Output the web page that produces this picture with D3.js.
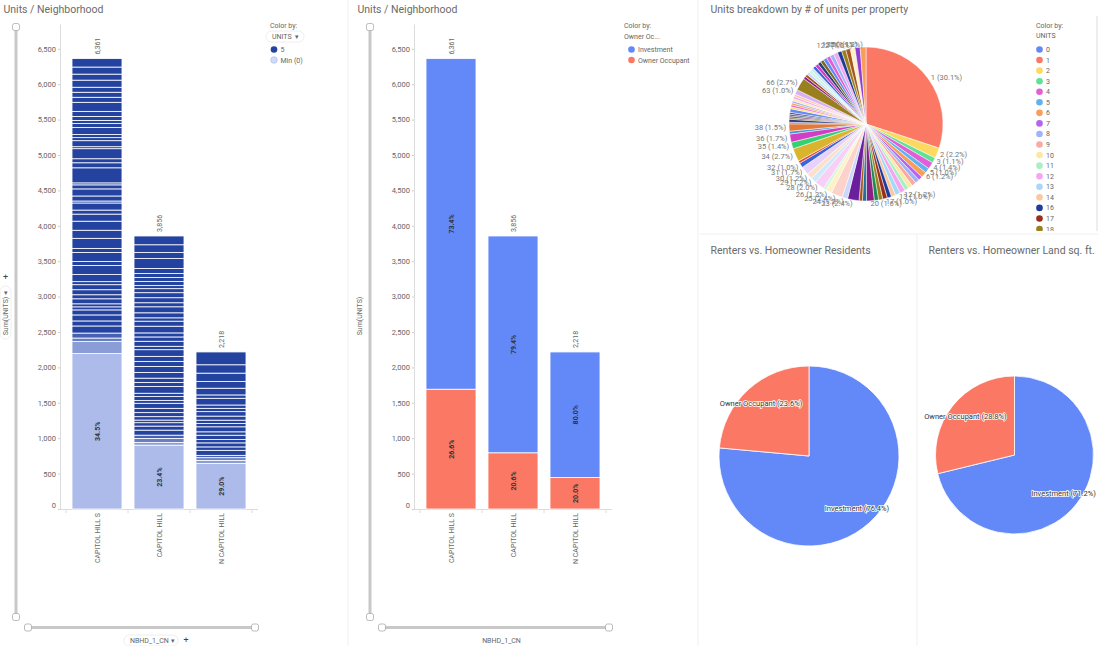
<!DOCTYPE html>
<html>
<head>
<meta charset="utf-8">
<script src="https://cdn.jsdelivr.net/npm/d3@7"></script>
<style>
  body { margin: 0; background: #fff; }
  svg { font-family: Roboto, "Open Sans", sans-serif; }
  .title { font-size: 10.5px; fill: #6a6a6a; }
  .small { font-size: 7px; fill: #666; }
  .axis text { font-size: 7.5px; fill: #666; font-family: Roboto, sans-serif; }
  .axis .domain { stroke: #dcdcdc; }
  .axis .tick line { stroke: #cfcfcf; }
</style>
</head>
<body>
<svg id="dash" width="1098" height="646"></svg>
<script>
// units dashboard: two stacked bar charts + three pies

// ---- data ----
var neighborhoods = ["CAPITOL HILL S", "CAPITOL HILL", "N CAPITOL HILL"];
var totalUnits = [6361, 3856, 2218];
var ownerUnits = [1692, 794, 444];
var investUnits = [4669, 3062, 1774];
var yTicks = [0, 500, 1000, 1500, 2000, 2500, 3000, 3500, 4000, 4500, 5000, 5500, 6000, 6500];

// stack segments, bottom to top: [UNITS per property, Sum(UNITS)]
var segCapitolHillS = [[1,2195],[2,170],[3,50],[4,70],
  [5,100],[6,71],[7,85],[8,71],[9,43],[10,43],[11,71],[12,57],[13,71],[14,71],
  [16,43],[17,100],[18,128],[19,57],[20,128],[21,57],[22,142],[23,114],[24,128],[25,100],
  [26,57],[27,100],[28,28],[29,71],[30,100],[31,57],[32,28],[33,213],[34,71],[35,57],
  [36,142],[37,28],[38,85],[39,43],[40,43],[41,100],[42,57],[43,43],[45,57],[47,71],
  [50,128],[52,71],[55,71],[58,71],[62,100],[68,85],[75,100],[96,119]];
var segCapitolHill = [[1,902],[2,37],[3,57],[4,47],
  [5,71],[6,57],[7,48],[8,37],[9,48],[10,57],[11,61],[12,71],[13,38],[14,57],
  [16,47],[17,95],[18,57],[19,61],[20,81],[21,85],[22,71],[23,71],[24,94],[25,48],
  [26,71],[27,61],[28,57],[29,95],[30,71],[31,47],[32,71],[33,85],[34,57],[35,71],
  [36,71],[37,57],[38,43],[40,57],[42,57],[45,57],[48,71],[52,140],[60,85],[66,110],[84,124]];
var segNCapitolHill = [[1,643],[2,44],[3,38],[4,33],
  [5,71],[6,48],[8,57],[9,47],[10,61],[12,48],[14,71],[16,47],[18,47],[20,57],
  [22,63],[24,47],[26,47],[28,95],[30,47],[32,95],[36,95],[40,118],[48,118],[60,181]];

// Sum(UNITS) by UNITS value (pie)
var pieUnits = [0,1,2,3,4,5,6,7,8,9,10,11,12,13,14,16,17,18,19,
  20,21,22,23,24,25,26,27,28,29,30,31,32,33,34,35,36,37,38,
  39,40,42,44,45,47,48,50,52,54,56,58,60,62,63,66,
  68,70,72,75,77,80,84,88,90,96,100,104,108,112,114,118,122,135,150];
var pieSums = [0,3740,274,138,180,130,150,105,112,117,110,110,144,130,112,112,119,108,114,
  200,105,88,299,144,300,156,81,252,145,150,217,128,66,340,175,216,74,190,
  39,80,42,44,45,47,96,50,52,54,56,58,60,62,126,330,
  68,70,72,75,77,80,84,88,90,96,100,104,108,112,114,118,122,135,150];
var legendCount = 18; // legend rows that fit in the panel (last one is cut)

var ownerLabels = ["Investment", "Owner Occupant"];
var residentUnits = [9505, 2930];
var landShare = [71.2, 28.8];

// ---- colors ----
var palette = [
  "#6389f8","#fa7864","#fcda5f","#5fe196","#e35ed6","#5fb3ee","#f99d5b","#b564ec",
  "#a0b3f9","#f8aba0","#fde8a3","#a8f0c3","#f5a6ee","#a6d8f9","#fbc7a1","#d9b0f6",
  "#1e3c98","#9b2d1c","#9a7f1e","#1f8a4c","#8a1f85","#1f6e9c","#a5571c","#6a1f9c",
  "#cbd7fb","#fcd2cb","#fef1c6","#cff7de","#f9cff6","#cfe9fb","#fde0cb","#e8d2fa",
  "#3d63d8","#de4b35","#d9b42c","#37cf72","#d23dc4","#3a98d8","#e0793a","#8f3bd6",
  "#2c3f7a","#7a3a2e","#7a6a2a","#2e6e4a","#6e2e6a","#2e5a7a","#85502a","#4e2e7a"];
var blue = "#6389f8", salmon = "#fa7864";
var unitColor = d3.scaleLinear().domain([0, 5]).range(["#cfd9fc", "#2443a0"]).clamp(true);

var svg = d3.select("#dash");

// panel separators
svg.append("g").attr("stroke", "#f0f0f0").selectAll("line")
  .data([[348,0,348,646],[698,0,698,646],[700,234,1098,234],[917,234,917,646]])
  .enter().append("line")
  .attr("x1", d => d[0]).attr("y1", d => d[1]).attr("x2", d => d[2]).attr("y2", d => d[3]);

// ---- shared scales for both bar charts ----
var y = d3.scaleLinear().domain([0, 6850]).range([509, 24]);
var x = d3.scaleBand().domain(neighborhoods).range([66, 252]).paddingInner(0.194).paddingOuter(0.097);

function handle(g, cx, cy) {
  g.append("rect").attr("x", cx - 3.5).attr("y", cy - 3.5).attr("width", 7).attr("height", 7)
    .attr("rx", 2).attr("fill", "#fff").attr("stroke", "#aaa").attr("stroke-width", 0.8);
}

function barFrame(ox, left) {
  var g = svg.append("g").attr("transform", "translate(" + ox + ",0)");
  g.append("text").attr("class", "title").attr("x", 3.5).attr("y", 12.5).text("Units / Neighborhood");

  // sliders
  g.append("line").attr("x1", 16).attr("x2", 16).attr("y1", 27).attr("y2", 617)
    .attr("stroke", "#c8c8c8").attr("stroke-width", 3);
  g.append("line").attr("x1", 28).attr("x2", 255).attr("y1", 627.5).attr("y2", 627.5)
    .attr("stroke", "#c8c8c8").attr("stroke-width", 3);
  handle(g, 16, 27); handle(g, 16, 617); handle(g, 28, 627.5); handle(g, 255, 627.5);

  // y axis
  var ya = g.append("g").attr("class", "axis").attr("transform", "translate(60,0)")
    .call(d3.axisLeft(y).tickValues(yTicks).tickFormat(d3.format(",")).tickSize(2).tickPadding(2).tickSizeOuter(0));
  ya.selectAll(".tick").filter(d => d === 0).select("text").attr("y", -4);

  // x axis
  g.append("line").attr("x1", 60).attr("x2", 258).attr("y1", 509.5).attr("y2", 509.5).attr("stroke", "#dcdcdc");
  g.selectAll(null).data(d3.range(neighborhoods.length + 1)).enter().append("line")
    .attr("x1", i => x.range()[0] + i * x.step()).attr("x2", i => x.range()[0] + i * x.step())
    .attr("y1", 509.5).attr("y2", 513).attr("stroke", "#dcdcdc");
  g.selectAll(null).data(neighborhoods).enter().append("text")
    .attr("class", "small").attr("font-size", "7.5px")
    .attr("transform", d => "translate(" + (x(d) + x.bandwidth() / 2 + 2.5) + ",513) rotate(-90)")
    .attr("text-anchor", "end").text(d => d);

  // axis titles
  g.append("text").attr("class", "small").attr("font-size", "7.5px")
    .attr("transform", "translate(7.5,316) rotate(-90)")
    .attr("text-anchor", "middle").text("Sum(UNITS)");
  if (left) {
    g.append("rect").attr("x", 0).attr("y", 286).attr("width", 11).attr("height", 53).attr("rx", 5.5)
      .attr("fill", "none").attr("stroke", "#eee");
    g.append("text").attr("class", "small").attr("x", 5.5).attr("y", 295).attr("text-anchor", "middle").attr("font-size", "6px").text("▾");
    g.append("text").attr("x", 5.5).attr("y", 280).attr("text-anchor", "middle").attr("font-size", "9px").attr("fill", "#444").text("+");
    g.append("rect").attr("x", 124).attr("y", 635).attr("width", 54).attr("height", 11).attr("rx", 5.5)
      .attr("fill", "none").attr("stroke", "#eee");
    g.append("text").attr("class", "small").attr("font-size", "6.8px").attr("x", 130).attr("y", 642.5).text("NBHD_1_CN");
    g.append("text").attr("class", "small").attr("x", 172.5).attr("y", 642.5).attr("font-size", "6px").attr("text-anchor", "middle").text("▾");
    g.append("text").attr("x", 186).attr("y", 643).attr("text-anchor", "middle").attr("font-size", "9px").attr("fill", "#444").text("+");
  } else {
    g.append("text").attr("class", "small").attr("font-size", "7px").attr("x", 147.5).attr("y", 642.5)
      .attr("text-anchor", "middle").text("NBHD_1_CN");
  }
  return g;
}

function drawStack(g, i, rows, colorOf) {
  var total = rows[rows.length - 1].y1;
  var cx = x(neighborhoods[i]) + x.bandwidth() / 2;
  g.selectAll(null).data(rows).enter().append("rect")
    .attr("x", x(neighborhoods[i])).attr("width", x.bandwidth())
    .attr("y", d => y(d.y1)).attr("height", d => y(d.y0) - y(d.y1))
    .attr("fill", colorOf).attr("stroke", "#fff").attr("stroke-width", 0.8);
  g.selectAll(null).data(rows.filter(d => y(d.y0) - y(d.y1) > 30)).enter().append("text")
    .attr("transform", d => "translate(" + (cx + 2.5) + "," + ((y(d.y0) + y(d.y1)) / 2) + ") rotate(-90)")
    .attr("text-anchor", "middle").attr("font-size", "7px").attr("font-weight", "bold").attr("fill", "#333")
    .text(d => ((d.y1 - d.y0) / total * 100).toFixed(1) + "%");
  g.append("text").attr("class", "small")
    .attr("transform", "translate(" + (cx + 2.5) + "," + (y(totalUnits[i]) - 4) + ") rotate(-90)")
    .text(d3.format(",")(totalUnits[i]));
}

function stackRows(segs) {
  var acc = 0;
  return segs.map(function(s) {
    var r = { u: s[0], y0: acc, y1: acc + s[1] };
    acc += s[1];
    return r;
  });
}

// ---- left: color by UNITS ----
var gL = barFrame(0, true);
[segCapitolHillS, segCapitolHill, segNCapitolHill].forEach(function(segs, i) {
  drawStack(gL, i, stackRows(segs), d => unitColor(d.u));
});
gL.append("text").attr("class", "small").attr("x", 270).attr("y", 27.5).text("Color by:");
gL.append("rect").attr("x", 266).attr("y", 31).attr("width", 38).attr("height", 11).attr("rx", 5.5)
  .attr("fill", "none").attr("stroke", "#eee");
gL.append("text").attr("class", "small").attr("x", 272).attr("y", 38.5).attr("fill", "#555").text("UNITS");
gL.append("text").attr("class", "small").attr("x", 295).attr("y", 38.5).attr("font-size", "6px").text("▾");
var leftLegend = [["5", unitColor(5)], ["Min (0)", unitColor(0)]];
gL.selectAll(null).data(leftLegend).enter().append("circle")
  .attr("cx", 274).attr("cy", (d, k) => 49.5 + k * 10.5).attr("r", 3.3)
  .attr("fill", d => d[1]).attr("stroke", (d, k) => k ? "#aab6e6" : "none").attr("stroke-width", 0.6);
gL.selectAll(null).data(leftLegend).enter().append("text").attr("class", "small")
  .attr("x", 280.5).attr("y", (d, k) => 52 + k * 10.5).text(d => d[0]);

// ---- middle: color by owner occupancy ----
var gM = barFrame(354, false);
neighborhoods.forEach(function(n, i) {
  var rows = [{ k: 1, y0: 0, y1: ownerUnits[i] }, { k: 0, y0: ownerUnits[i], y1: ownerUnits[i] + investUnits[i] }];
  drawStack(gM, i, rows, d => d.k ? salmon : blue);
});
gM.append("text").attr("class", "small").attr("x", 270).attr("y", 27.5).text("Color by:");
gM.append("text").attr("class", "small").attr("x", 270).attr("y", 38.5).attr("fill", "#555").text("Owner Oc...");
gM.selectAll(null).data(ownerLabels).enter().append("circle")
  .attr("cx", 277.5).attr("cy", (d, k) => 49.5 + k * 10.5).attr("r", 3.3).attr("fill", (d, k) => k ? salmon : blue);
gM.selectAll(null).data(ownerLabels).enter().append("text").attr("class", "small")
  .attr("x", 284).attr("y", (d, k) => 52 + k * 10.5).text(d => d);

// ---- top right: units breakdown pie ----
svg.append("clipPath").attr("id", "clipTR").append("rect").attr("x", 700).attr("y", 0).attr("width", 398).attr("height", 231);
var gP = svg.append("g").attr("clip-path", "url(#clipTR)");
gP.append("text").attr("class", "title").attr("x", 710.5).attr("y", 12.5).text("Units breakdown by # of units per property");
var pieTotal = d3.sum(pieSums);
var pieData = pieUnits.map((u, i) => ({ u: u, v: pieSums[i] }));
var arcs = d3.pie().sort(null).value(d => d.v)(pieData).filter(a => a.data.v > 0);
var pcx = 866, pcy = 124, pr = 77;
var arcGen = d3.arc().innerRadius(0).outerRadius(pr);
gP.append("g").attr("transform", "translate(" + pcx + "," + pcy + ")")
  .selectAll("path").data(arcs).enter().append("path")
  .attr("d", arcGen).attr("fill", d => palette[d.data.u % palette.length])
  .attr("stroke", "#fff").attr("stroke-width", 0.5);
gP.append("g").selectAll("text").data(arcs.filter(a => a.data.v / pieTotal >= 0.0095)).enter().append("text")
  .attr("font-size", "7.5px").attr("fill", "#777")
  .attr("x", d => pcx + (pr + 3) * Math.sin((d.startAngle + d.endAngle) / 2))
  .attr("y", d => pcy - (pr + 3) * Math.cos((d.startAngle + d.endAngle) / 2))
  .attr("dy", "0.35em")
  .attr("text-anchor", d => Math.sin((d.startAngle + d.endAngle) / 2) >= 0 ? "start" : "end")
  .text(d => d.data.u + " (" + (d.data.v / pieTotal * 100).toFixed(1) + "%)");
gP.append("text").attr("class", "small").attr("x", 1036).attr("y", 27.5).text("Color by:");
gP.append("text").attr("class", "small").attr("x", 1036).attr("y", 37.5).attr("fill", "#555").text("UNITS");
var legItems = gP.selectAll(".leg").data(pieUnits.slice(0, legendCount)).enter().append("g").attr("class", "leg")
  .attr("transform", (d, k) => "translate(1039.5," + (49.5 + k * 10.56) + ")");
legItems.append("circle").attr("r", 3.3).attr("fill", d => palette[d % palette.length]);
legItems.append("text").attr("class", "small").attr("x", 6.5).attr("y", 2.5).text(d => d);
svg.append("line").attr("x1", 1097).attr("x2", 1097).attr("y1", 16).attr("y2", 231).attr("stroke", "#ddd");

// ---- bottom pies ----
function ownerPie(title, tx, cx, cy, r, values) {
  var g = svg.append("g");
  g.append("text").attr("class", "title").attr("x", tx).attr("y", 253.5).text(title);
  var total = d3.sum(values);
  var data = ownerLabels.map((n, i) => ({ n: n, v: values[i], c: i ? salmon : blue }));
  var a = d3.pie().sort(null).value(d => d.v)(data);
  var gg = g.append("g").attr("transform", "translate(" + cx + "," + cy + ")");
  gg.selectAll("path").data(a).enter().append("path")
    .attr("d", d3.arc().innerRadius(0).outerRadius(r)).attr("fill", d => d.data.c)
    .attr("stroke", "#fff").attr("stroke-width", 0.8);
  var lab = d3.arc().innerRadius(r * 0.79).outerRadius(r * 0.79);
  gg.selectAll("text").data(a).enter().append("text")
    .attr("transform", d => "translate(" + lab.centroid(d) + ")")
    .attr("text-anchor", "middle").attr("dy", "0.35em")
    .attr("font-size", "7.5px").attr("fill", "#333")
    .attr("stroke", "#fff").attr("stroke-width", 1.6).attr("paint-order", "stroke")
    .text(d => d.data.n + " (" + (d.data.v / total * 100).toFixed(1) + "%)");
}
ownerPie("Renters vs. Homeowner Residents", 710.5, 809, 456, 90, residentUnits);
ownerPie("Renters vs. Homeowner Land sq. ft.", 928.5, 1014.5, 455, 79, landShare);
</script>
</body>
</html>
